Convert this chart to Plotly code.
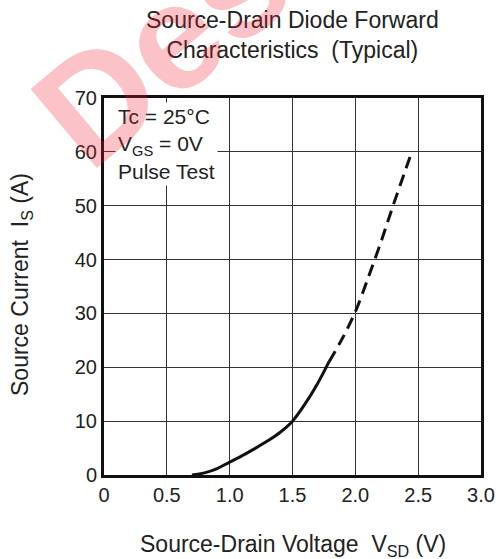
import plotly.graph_objects as go

# Data
vsd_solid = [0.70, 0.80, 0.90, 1.00, 1.10, 1.20, 1.30, 1.40, 1.50, 1.60, 1.70, 1.79]
is_solid = [0.0, 0.4, 1.2, 2.4, 3.6, 4.9, 6.3, 7.9, 10.0, 13.2, 17.0, 21.0]
vsd_dash = [1.79, 1.90, 2.00, 2.10, 2.20, 2.30, 2.40, 2.45]
is_dash = [21.0, 25.5, 30.3, 36.5, 43.0, 50.0, 56.7, 60.0]

x_ticks = [0, 0.5, 1.0, 1.5, 2.0, 2.5, 3.0]
x_ticklabels = ["0", "0.5", "1.0", "1.5", "2.0", "2.5", "3.0"]
y_ticks = [0, 10, 20, 30, 40, 50, 60, 70]

FONT = "Liberation Sans, Arial, sans-serif"
TXT = "#222222"

fig = go.Figure()
fig.add_trace(go.Scatter(x=vsd_solid, y=is_solid, mode="lines",
                         line=dict(color="#111111", width=3, shape="spline"),
                         showlegend=False, hoverinfo="skip"))
fig.add_trace(go.Scatter(x=vsd_dash, y=is_dash, mode="lines",
                         line=dict(color="#111111", width=3, dash="12px,7px", shape="spline"),
                         showlegend=False, hoverinfo="skip"))

axis_common = dict(showline=True, linecolor="#111111", linewidth=3, mirror=True,
                   showgrid=True, gridcolor="#333333", gridwidth=1, automargin=False,
                   zeroline=False, ticks="", tickfont=dict(family=FONT, size=20, color=TXT))

fig.update_xaxes(range=[0, 3.0], tickvals=x_ticks, ticktext=x_ticklabels, **axis_common)
fig.update_yaxes(range=[0, 70], tickvals=y_ticks, **axis_common)

fig.update_layout(
    width=503, height=559,
    margin=dict(l=104, r=22, t=98, b=84),
    paper_bgcolor="white", plot_bgcolor="white",
)

# Axis titles
fig.add_annotation(text="Source-Drain Voltage  V<sub>SD</sub> (V)",
                   xref="paper", yref="paper", x=0.5, y=-0.186,
                   xanchor="center", yanchor="middle", showarrow=False,
                   font=dict(family=FONT, size=23, color=TXT))
fig.add_annotation(text="Source Current  I<sub>S</sub> (A)",
                   xref="paper", yref="paper", x=-0.2175, y=0.504, textangle=-90,
                   xanchor="center", yanchor="middle", showarrow=False,
                   font=dict(family=FONT, size=23, color=TXT))

# Title
fig.add_annotation(text="Source-Drain Diode Forward<br>Characteristics  (Typical)",
                   xref="paper", yref="paper", x=0.5, y=1.247,
                   xanchor="center", yanchor="top", showarrow=False,
                   font=dict(family=FONT, size=23, color=TXT))

# Condition box
fig.add_annotation(text="Tc = 25°C<br>V<sub>GS</sub> = 0V<br>Pulse Test",
                   xref="paper", yref="paper", x=0.03, y=0.99,
                   xanchor="left", yanchor="top", align="left", showarrow=False,
                   bgcolor="white", borderpad=2,
                   font=dict(family=FONT, size=21, color=TXT))

# Watermark (partial, top-left), semi-transparent on top
fig.add_annotation(text="<b>Design</b>", xref="paper", yref="paper", x=0.38, y=1.33,
                   xanchor="center", yanchor="middle",
                   showarrow=False, textangle=-40,
                   font=dict(family=FONT, size=150, color="rgba(240,30,50,0.27)"))

fig.write_html("out.html")
